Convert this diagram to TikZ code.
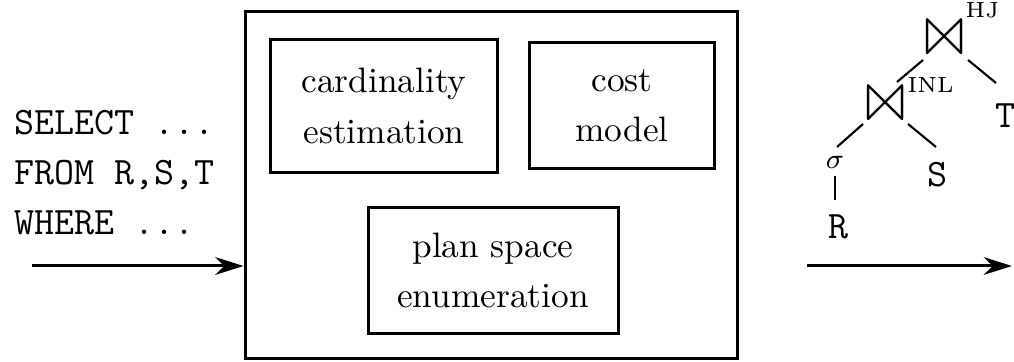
\documentclass[tikz,border=0pt]{standalone}
\usepackage{latexsym}
\usetikzlibrary{arrows.meta}
\begin{document}
\begin{tikzpicture}[x=0.283pt,y=-0.283pt,
  box/.style={draw,line width=0.85pt,align=center,inner sep=0pt,
    font=\fontsize{10}{14.2}\selectfont},
  sql/.style={anchor=west,inner sep=0pt,align=left,
    font=\fontsize{11}{14.1}\selectfont\ttfamily},
  rel/.style={inner sep=0pt,font=\fontsize{11}{13}\selectfont\ttfamily},
  joinop/.style={inner sep=0pt,font=\fontsize{17}{18}\selectfont},
  algo/.style={inner sep=0pt,font=\fontsize{6.2}{7}\selectfont},
  edge/.style={line width=0.6pt},
  flow/.style={line width=0.85pt,-{Stealth[length=8pt,width=5pt,inset=2.5pt]}}]
\useasboundingbox (0,0) rectangle (1014,362);

% optimizer and its components
\node[box,minimum width=139.5pt,minimum height=98.2pt] (opt) at (491.5,185.5) {};
\node[box,minimum width=64.5pt,minimum height=37.4pt] (card) at (384,106) {cardinality\\estimation};
\node[box,minimum width=52.6pt,minimum height=35.4pt] (cost) at (622,105.5) {cost\\model};
\node[box,minimum width=70.75pt,minimum height=35.4pt] (enum) at (493,270.5) {plan space\\enumeration};

% input query
\node[sql] (query) at (14,172.5) {SELECT ...\\FROM R,S,T\\WHERE ...};
\coordinate (qin) at (32,266);
\draw[flow] (qin) -- (qin -| opt.west);

% output plan
\coordinate (pout) at (807,266);
\coordinate (pend) at (1012,266);
\draw[flow] (pout) -- (pend);

% plan tree (join glyphs sit slightly above their box centre)
\node[joinop] (hj) at (945,44) {$\Join$};
\node[algo,anchor=south west] (hjl) at (965,19) {HJ};
\node[joinop] (inl) at (886,110) {$\Join$};
\node[algo,anchor=south west] (inll) at (907,93) {INL};
\node[rel] (t) at (1005,116) {T};
\node[rel] (s) at (937,175) {S};
\node[inner sep=0pt,font=\fontsize{8.5}{10}\selectfont] (sel) at (835,162) {$\sigma$};
\node[rel] (r) at (838,227) {R};

\draw[edge] ([shift={(-22,16)}]hj.center) -- ([shift={(11,-28)}]inl.center);
\draw[edge] ([shift={(23,16)}]hj.center) -- ([shift={(-9,-33)}]t.center);
\draw[edge] ([shift={(-23,14)}]inl.center) -- ([shift={(2,-15)}]sel.center);
\draw[edge] ([shift={(22,14)}]inl.center) -- ([shift={(-1,-28)}]s.center);
\draw[edge] ([shift={(0,14)}]sel.center) -- ([shift={(0,38)}]sel.center);
\end{tikzpicture}
\end{document}
